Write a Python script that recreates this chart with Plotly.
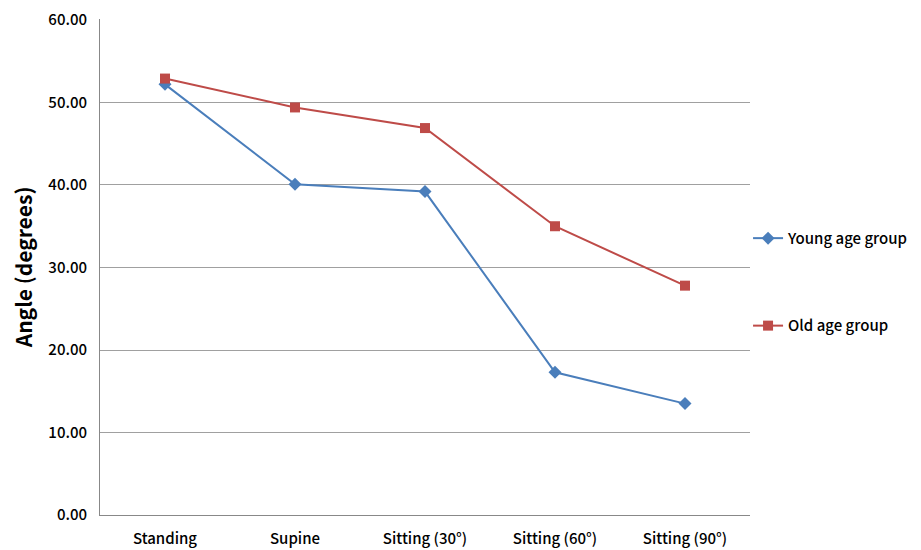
import plotly.graph_objects as go

categories = ["Standing", "Supine", "Sitting (30°)", "Sitting (60°)", "Sitting (90°)"]
young = [52.2, 40.1, 39.2, 17.3, 13.5]
old = [52.9, 49.4, 46.9, 35.0, 27.8]
y_ticks = [0, 10, 20, 30, 40, 50, 60]
y_tick_labels = ["0.00", "10.00", "20.00", "30.00", "40.00", "50.00", "60.00"]

FONT = "Noto Sans CJK KR"

fig = go.Figure()
fig.add_trace(go.Scatter(
    x=categories, y=young, name="Young age group", mode="lines+markers",
    line=dict(color="#4A7EBB", width=2),
    marker=dict(symbol="diamond", size=10, color="#4A7EBB"),
    legendgroup="a",
))
fig.add_trace(go.Scatter(
    x=categories, y=old, name="Old age group", mode="lines+markers",
    line=dict(color="#BE4B48", width=2),
    marker=dict(symbol="square", size=10, color="#BE4B48"),
    legendgroup="b",
))

fig.update_layout(
    width=929, height=550,
    margin=dict(l=92, r=187, t=11, b=43),
    paper_bgcolor="white", plot_bgcolor="white",
    font=dict(family=FONT, color="black", size=13),
    showlegend=True,
    legend=dict(
        x=0.997, xanchor="left", y=0.47, yanchor="middle",
        font=dict(family=FONT, size=15, color="black", weight=500),
        tracegroupgap=65, itemwidth=30,
        bgcolor="rgba(0,0,0,0)",
    ),
    xaxis=dict(
        type="category", range=[-0.5, 4.5], automargin=False,
        showgrid=False, showline=True, linecolor="#888888", linewidth=1,
        ticks="", tickfont=dict(family=FONT, size=15, color="black", weight=500),
        ticklabelstandoff=10, ticklabeloverflow="allow",
    ),
    yaxis=dict(
        range=[0, 60.12], tickvals=y_ticks, ticktext=y_tick_labels, automargin=False,
        showgrid=True, gridcolor="#A0A0A0", gridwidth=1,
        showline=True, linecolor="#888888", linewidth=1,
        ticks="", tickfont=dict(family=FONT, size=15, color="black", weight=500),
        ticklabelstandoff=9, zeroline=False, ticklabeloverflow="allow",
        title=dict(text="<b>Angle (degrees)</b>", font=dict(family=FONT, size=21, color="black"), standoff=16),
    ),
)

fig.write_html("out.html")
